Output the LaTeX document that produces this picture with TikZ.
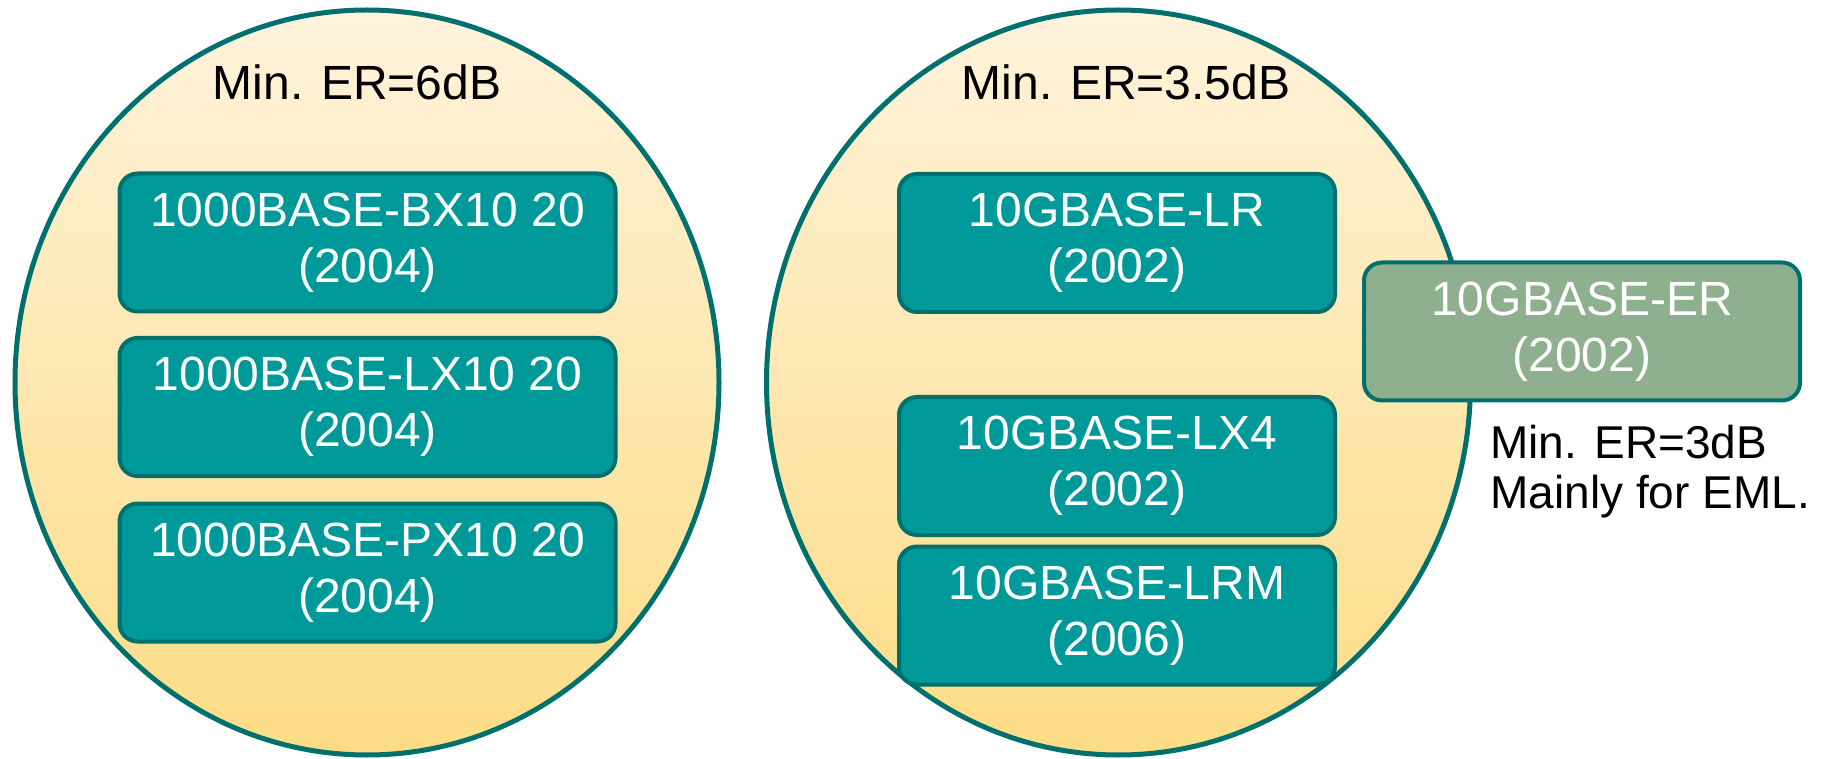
\documentclass[tikz,border=0pt]{standalone}
\usepackage{fontspec}
\setmainfont{Liberation Sans}
\usepackage{xcolor}
\usepackage{tikz}
\usetikzlibrary{shapes,positioning}

\definecolor{rim}{HTML}{00706E}
\definecolor{zonetop}{HTML}{FEF3DC}
\definecolor{zonebot}{HTML}{FDDC85}
\definecolor{stdfill}{HTML}{009999}
\definecolor{extfill}{HTML}{8EB08E}

\begin{document}
\begin{tikzpicture}[x=0.5pt, y=-0.5pt,
    zone/.style={draw=rim, line width=2.5pt, ellipse, inner sep=0pt, minimum width=352pt, minimum height=372.5pt, top color=zonetop, bottom color=zonebot},
    title/.style={font=\fontsize{24}{28}\selectfont, inner sep=0pt},
    stdbox/.style={draw=rim, rectangle, rounded corners=9pt, line width=2pt, fill=stdfill, text=white, align=center, inner sep=0pt, minimum height=69pt, font=\fontsize{24}{28}\selectfont},
    gbox/.style={stdbox, minimum width=248pt},
    tgbox/.style={stdbox, minimum width=218pt},
    note/.style={font=\fontsize{23}{25}\selectfont, align=left, inner sep=0pt}
]
\useasboundingbox (0,0) rectangle (1833,759);

\node[zone] (zone6) at (367,382.5) {};
\node[title] (er6) at (357,82) {Min. ER=6dB};

\node[zone] (zone35) at (1118.5,382.5) {};
\node[title] (er35) at (1126,82) {Min. ER=3.5dB};

\node[gbox] (bx) at (367.5,242.5) {1000BASE-BX10 20\\(2004)};
\node[gbox] (lx) at (367.5,407) {1000BASE-LX10 20\\(2004)};
\node[gbox] (px) at (367.5,572.5) {1000BASE-PX10 20\\(2004)};

\node[tgbox] (lr) at (1117,243) {10GBASE-LR\\(2002)};
\node[tgbox] (lx4) at (1117,466) {10GBASE-LX4\\(2002)};
\node[tgbox] (lrm) at (1117,615.5) {10GBASE-LRM\\(2006)};

\node[tgbox, fill=extfill] (er) at (1582,331.5) {10GBASE-ER\\(2002)};
\node[note, anchor=north west] (ernote) at (1490,425) {Min. ER=3dB\\Mainly for EML.};
\end{tikzpicture}
\end{document}
